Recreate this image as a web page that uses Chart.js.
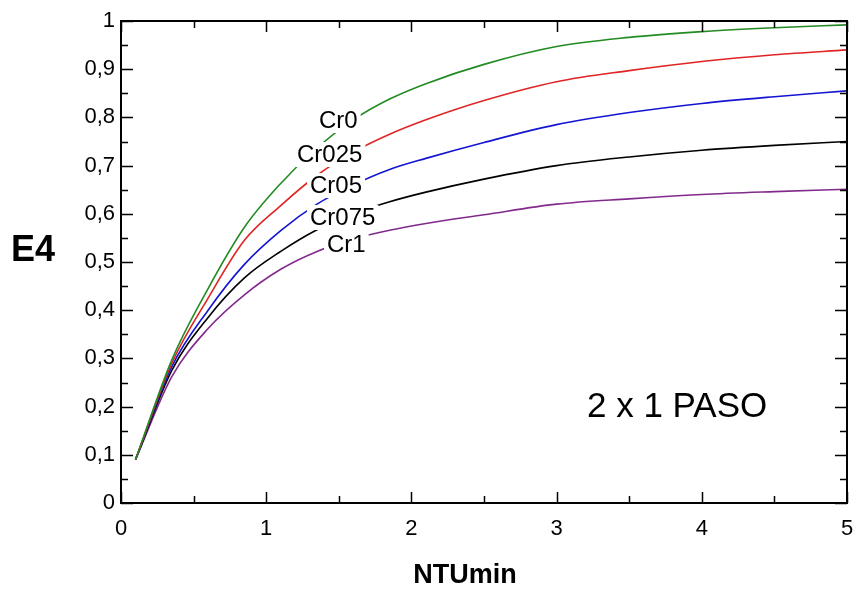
<!DOCTYPE html>
<html>
<head>
<meta charset="utf-8">
<script src="https://cdn.jsdelivr.net/npm/chart.js@4/dist/chart.umd.min.js"></script>
<style>
    html, body { margin: 0; padding: 0; background: #fff; }
    canvas { display: block; }
</style>
</head>
<body>
<canvas id="chart" width="856" height="589"></canvas>
<script>
// NTUmin values where the curves are read
const ntu = [0.1, 0.35, 0.6, 0.85, 1.1, 1.35, 1.6, 1.85, 2.1, 2.5, 3, 3.5, 4, 4.5, 5];

// E4 for every Cr
const cr0   = [0.09, 0.297, 0.445, 0.572, 0.663, 0.737, 0.795, 0.838, 0.870, 0.910, 0.947, 0.966, 0.978, 0.986, 0.992];
const cr025 = [0.09, 0.290, 0.425, 0.545, 0.617, 0.680, 0.728, 0.765, 0.795, 0.835, 0.874, 0.897, 0.916, 0.930, 0.940];
const cr05  = [0.09, 0.283, 0.400, 0.495, 0.565, 0.620, 0.660, 0.692, 0.715, 0.748, 0.785, 0.810, 0.829, 0.843, 0.855];
const cr075 = [0.09, 0.275, 0.385, 0.467, 0.522, 0.567, 0.600, 0.625, 0.645, 0.672, 0.700, 0.718, 0.732, 0.742, 0.750];
const cr1   = [0.09, 0.262, 0.362, 0.432, 0.485, 0.522, 0.548, 0.566, 0.580, 0.598, 0.620, 0.631, 0.640, 0.646, 0.651];

const seriesNames = ['Cr0', 'Cr025', 'Cr05', 'Cr075', 'Cr1'];
const seriesColors = ['#228b22', '#e02424', '#1414d2', '#000000', '#822a8c'];

// inline labels: [left edge, baseline]
const labelSpots = [[319, 128], [297, 162], [310, 193], [310, 225], [327, 252]];

const xTicks = [0, 1, 2, 3, 4, 5];
const yTicks = [0, 0.1, 0.2, 0.3, 0.4, 0.5, 0.6, 0.7, 0.8, 0.9, 1];

const FONT = 'Arial, "Liberation Sans", sans-serif';

const toPoints = (ys) => ntu.map((x, i) => ({ x: x, y: ys[i] }));

const allSeries = [cr0, cr025, cr05, cr075, cr1];

const datasets = allSeries.map((ys, i) => ({
    label: seriesNames[i],
    data: toPoints(ys),
    borderColor: seriesColors[i],
    borderWidth: 1.6,
    pointRadius: 0,
    fill: false,
    cubicInterpolationMode: 'monotone'
}));

const fmt = (v) => {
    if (Math.abs(v) < 1e-9) return '0';
    if (Math.abs(v - 1) < 1e-9) return '1';
    return v.toFixed(1).replace('.', ',');
};

// frame, inward ticks, curve labels, axis names
const decorations = {
    id: 'decorations',
    afterDatasetsDraw(chart) {
        const { ctx, chartArea: a, scales: { x, y } } = chart;
        ctx.save();

        // curve labels with white background
        ctx.font = '24px ' + FONT;
        ctx.textBaseline = 'alphabetic';
        ctx.textAlign = 'left';
        seriesNames.forEach((name, i) => {
            const [lx, by] = labelSpots[i];
            const w = ctx.measureText(name).width;
            ctx.fillStyle = '#fff';
            ctx.fillRect(lx - 3, by - 20, w + 6, 25);
            ctx.fillStyle = '#000';
            ctx.fillText(name, lx, by);
        });

        // frame
        ctx.strokeStyle = '#000';
        ctx.lineWidth = 2;
        ctx.strokeRect(a.left, a.top, a.right - a.left, a.bottom - a.top);

        // ticks
        ctx.lineWidth = 1.5;
        ctx.beginPath();
        for (let k = 0; k <= 10; k++) {
            const v = k * 0.5;
            const px = Math.round(x.getPixelForValue(v)) + 0.5;
            const len = k % 2 === 0 ? 11 : 7;
            ctx.moveTo(px, a.bottom); ctx.lineTo(px, a.bottom - len);
            ctx.moveTo(px, a.top); ctx.lineTo(px, a.top + len);
        }
        for (let k = 0; k <= 20; k++) {
            const v = k * 0.05;
            const py = Math.round(y.getPixelForValue(v)) + 0.5;
            const len = k % 2 === 0 ? 12 : 7;
            ctx.moveTo(a.left, py); ctx.lineTo(a.left + len, py);
            ctx.moveTo(a.right, py); ctx.lineTo(a.right - len, py);
        }
        ctx.stroke();

        // axis names
        ctx.fillStyle = '#000';
        ctx.textAlign = 'center';
        ctx.textBaseline = 'middle';
        ctx.font = 'bold 36px ' + FONT;
        ctx.fillText('E4', 33, 251);
        ctx.font = 'bold 27px ' + FONT;
        ctx.fillText('NTUmin', 465, 576);

        // annotation
        ctx.textAlign = 'left';
        ctx.textBaseline = 'alphabetic';
        ctx.font = '35px ' + FONT;
        ctx.fillText('2 x 1 PASO', 587, 417);

        ctx.restore();
    }
};

new Chart(document.getElementById('chart'), {
    type: 'line',
    data: { datasets: datasets },
    options: {
        responsive: false,
        animation: false,
        layout: { padding: { left: 0, right: 9, top: 21, bottom: 0 } },
        plugins: {
            legend: { display: false },
            tooltip: { enabled: false }
        },
        scales: {
            x: {
                type: 'linear',
                min: 0,
                max: 5,
                afterBuildTicks: (scale) => { scale.ticks = xTicks.map(v => ({ value: v })); },
                ticks: {
                    color: '#000',
                    font: { size: 22, family: FONT },
                    padding: 13,
                    maxRotation: 0,
                    callback: (v) => String(v)
                },
                grid: { display: false, drawTicks: false },
                border: { display: false },
                afterFit: (scale) => {
                    scale.height = 86;
                    scale.paddingLeft = 0;
                    scale.paddingRight = 0;
                }
            },
            y: {
                type: 'linear',
                min: 0,
                max: 1,
                afterBuildTicks: (scale) => { scale.ticks = yTicks.map(v => ({ value: v })); },
                ticks: {
                    color: '#000',
                    font: { size: 22, family: FONT },
                    padding: 6,
                    callback: (v) => fmt(v)
                },
                grid: { display: false, drawTicks: false },
                border: { display: false },
                afterFit: (scale) => { scale.width = 121; }
            }
        }
    },
    plugins: [decorations]
});
</script>
</body>
</html>
